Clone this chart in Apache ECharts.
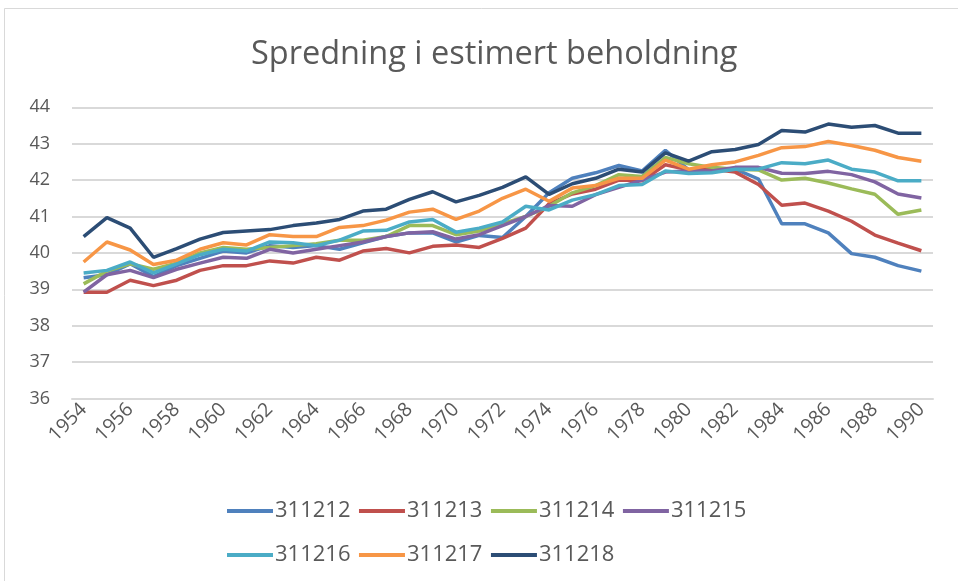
<!DOCTYPE html>
<html>
<head>
<meta charset="utf-8">
<script src="https://cdn.jsdelivr.net/npm/echarts@6/dist/echarts.min.js"></script>
<style>
html,body{margin:0;padding:0;background:#fff;}
#c{width:958px;height:581px;}
</style>
</head>
<body>
<div id="c"></div>
<script>
const years = ['1954','1955','1956','1957','1958','1959','1960','1961','1962','1963','1964','1965','1966','1967','1968','1969','1970','1971','1972','1973','1974','1975','1976','1977','1978','1979','1980','1981','1982','1983','1984','1985','1986','1987','1988','1989','1990'];
const seriesNames = ['311212','311213','311214','311215','311216','311217','311218'];
const s311212 = [39.32,39.40,39.70,39.35,39.65,39.85,40.05,40.00,40.20,40.15,40.20,40.10,40.28,40.45,40.55,40.55,40.30,40.48,40.42,41.00,41.65,42.05,42.20,42.40,42.25,42.82,42.28,42.25,42.30,42.03,40.80,40.80,40.55,39.98,39.88,39.65,39.50];
const s311213 = [38.92,38.92,39.25,39.10,39.25,39.52,39.65,39.65,39.78,39.72,39.88,39.80,40.05,40.12,40.00,40.18,40.22,40.15,40.40,40.68,41.35,41.62,41.75,42.00,41.98,42.42,42.28,42.30,42.22,41.88,41.31,41.37,41.15,40.87,40.49,40.27,40.06];
const s311214 = [39.15,39.50,39.70,39.55,39.72,40.00,40.15,40.10,40.15,40.20,40.25,40.35,40.35,40.45,40.75,40.75,40.50,40.60,40.80,41.00,41.28,41.65,41.85,42.15,42.10,42.62,42.45,42.35,42.30,42.28,42.00,42.05,41.92,41.76,41.61,41.06,41.18];
const s311215 = [38.92,39.40,39.52,39.32,39.55,39.72,39.88,39.85,40.10,40.00,40.10,40.20,40.30,40.45,40.55,40.58,40.38,40.50,40.75,41.00,41.30,41.28,41.60,41.80,42.00,42.22,42.25,42.25,42.35,42.35,42.19,42.18,42.24,42.15,41.95,41.62,41.51];
const s311216 = [39.45,39.52,39.75,39.45,39.70,39.95,40.10,40.05,40.30,40.28,40.20,40.35,40.60,40.62,40.85,40.92,40.57,40.68,40.85,41.28,41.18,41.45,41.60,41.85,41.88,42.25,42.18,42.20,42.30,42.30,42.48,42.45,42.55,42.30,42.22,41.98,41.98];
const s311217 = [39.75,40.30,40.08,39.68,39.80,40.10,40.28,40.22,40.50,40.45,40.45,40.70,40.75,40.90,41.12,41.20,40.92,41.15,41.50,41.75,41.42,41.78,41.85,42.05,42.05,42.55,42.30,42.42,42.50,42.68,42.89,42.92,43.06,42.95,42.82,42.62,42.52];
const s311218 = [40.45,40.97,40.68,39.88,40.12,40.38,40.56,40.60,40.64,40.75,40.82,40.92,41.15,41.20,41.47,41.68,41.40,41.58,41.80,42.09,41.61,41.90,42.05,42.30,42.22,42.75,42.52,42.78,42.84,42.98,43.36,43.32,43.54,43.45,43.50,43.29,43.29];
const allValues = [s311212,s311213,s311214,s311215,s311216,s311217,s311218];
const colors = ['#4F81BD','#C0504D','#9BBB59','#8064A2','#4BACC6','#F79646','#2C4D75'];
const titleText = 'Spredning i estimert beholdning';

const chart = echarts.init(document.getElementById('c'), null, {renderer:'canvas'});
const font = "'Open Sans', 'Noto Sans', sans-serif";
chart.setOption({
  animation:false,
  backgroundColor:'#fff',
  graphic:[{type:'rect',shape:{x:4.5,y:8.5,width:1000,height:1000},style:{fill:'none',stroke:'#d9d9d9',lineWidth:1}}],
  title:{text:titleText,left:246,top:33,textStyle:{fontFamily:font,fontSize:32.5,fontWeight:'normal',color:'#595959'}},
  grid:{left:72,right:25,top:107.3,bottom:182.5,containLabel:false},
  legend:[
    {data:seriesNames.slice(0,4),left:222,top:495,itemWidth:46,itemHeight:4,itemGap:8.5,icon:'rect',
     textStyle:{fontFamily:font,fontSize:22,color:'#595959',padding:[0,0,0,-3]}},
    {data:seriesNames.slice(4),left:222,top:539,itemWidth:46,itemHeight:4,itemGap:8.5,icon:'rect',
     textStyle:{fontFamily:font,fontSize:22,color:'#595959',padding:[0,0,0,-3]}}
  ],
  xAxis:{type:'category',data:years,boundaryGap:true,
    axisLine:{show:true,lineStyle:{color:'#d9d9d9',width:2}},axisTick:{show:false},
    axisLabel:{interval:1,rotate:45,fontFamily:font,fontSize:19.5,color:'#595959',margin:8}},
  yAxis:{type:'value',min:36,max:44,interval:1,
    axisLine:{show:false},axisTick:{show:false},
    splitLine:{lineStyle:{color:'#d9d9d9',width:2}},
    axisLabel:{fontFamily:font,fontSize:18,color:'#595959',margin:22}},
  series:seriesNames.map((n,i)=>({name:n,type:'line',data:allValues[i],showSymbol:false,symbol:'none',
    lineStyle:{width:3.5,color:colors[i]},itemStyle:{color:colors[i]}}))
});
</script>
</body>
</html>
